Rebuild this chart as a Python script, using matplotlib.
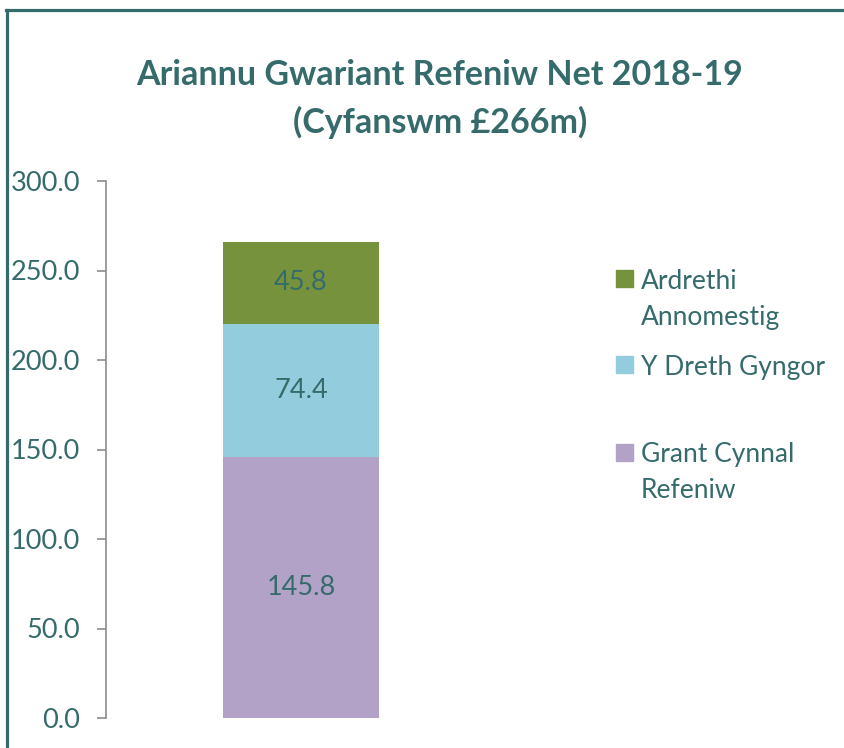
import matplotlib
matplotlib.use("Agg")
import matplotlib.pyplot as plt
from matplotlib.lines import Line2D
from matplotlib.patches import Rectangle

plt.rcParams['font.family'] = ['Lato', 'DejaVu Sans']

category = ['2018-19']
series_names = ['Grant Cynnal Refeniw', 'Y Dreth Gyngor', 'Ardrethi Annomestig']
series_values = [145.8, 74.4, 45.8]
series_colors = ['#B3A2C7', '#93CDDD', '#77923C']
legend_labels = ['Grant Cynnal\nRefeniw', 'Y Dreth Gyngor', 'Ardrethi\nAnnomestig']
yticks = [0, 50, 100, 150, 200, 250, 300]
title = 'Ariannu Gwariant Refeniw Net 2018-19\n(Cyfanswm £266m)'

TEAL = '#366B6B'
W, H = 845, 748
fig = plt.figure(figsize=(W / 100, H / 100), dpi=100)

def fx(px):
    return px / W

def fy(py):
    return 1 - py / H

# Frame border
fig.add_artist(Line2D([fx(7.5), fx(7.5)], [fy(10), fy(760)], color=TEAL, lw=2.3, transform=fig.transFigure))
fig.add_artist(Line2D([fx(6.5), fx(860)], [fy(10), fy(10)], color=TEAL, lw=2.3, transform=fig.transFigure))

ax = fig.add_axes([fx(106), fy(718), fx(560) - fx(106), fy(181) - fy(718)])

bottom = 0.0
for name, val, col in zip(series_names, series_values, series_colors):
    bars = ax.bar(category, [val], bottom=[bottom], width=0.6, color=col, label=name)
    ax.bar_label(bars, labels=[f'{val:.1f}'], label_type='center', color=TEAL, fontsize=19.5)
    bottom += val

ax.set_xlim(-0.75, 0.996)
ax.set_ylim(0, 300)
ax.set_yticks(yticks)
ax.set_yticklabels([f'{t:.1f}' for t in yticks])
ax.tick_params(axis='y', direction='out', length=6.5, width=1.2, color='#8C8C8C',
               labelcolor=TEAL, labelsize=19.5, pad=12)
ax.tick_params(axis='x', bottom=False, labelbottom=False)
for s in ['top', 'right', 'bottom']:
    ax.spines[s].set_visible(False)
ax.spines['left'].set_color('#8C8C8C')
ax.spines['left'].set_linewidth(1.2)

fig.text(fx(440), fy(99), title, ha='center', va='center', color=TEAL,
         fontsize=24.5, fontweight='bold', linespacing=1.55)

# Legend (top entry first), each text line placed separately
leg_y = [279, 365, 452]
line_step = 36
for lab, col, y in zip(legend_labels[::-1], series_colors[::-1], leg_y):
    fig.add_artist(Rectangle((fx(616), fy(y + 8.5)), fx(17), fy(0) - fy(17), color=col,
                             transform=fig.transFigure))
    for i, line in enumerate(lab.split('\n')):
        fig.text(fx(641), fy(y + i * line_step), line, ha='left', va='center_baseline',
                 color=TEAL, fontsize=19)

fig.savefig('out.png', dpi=100)
